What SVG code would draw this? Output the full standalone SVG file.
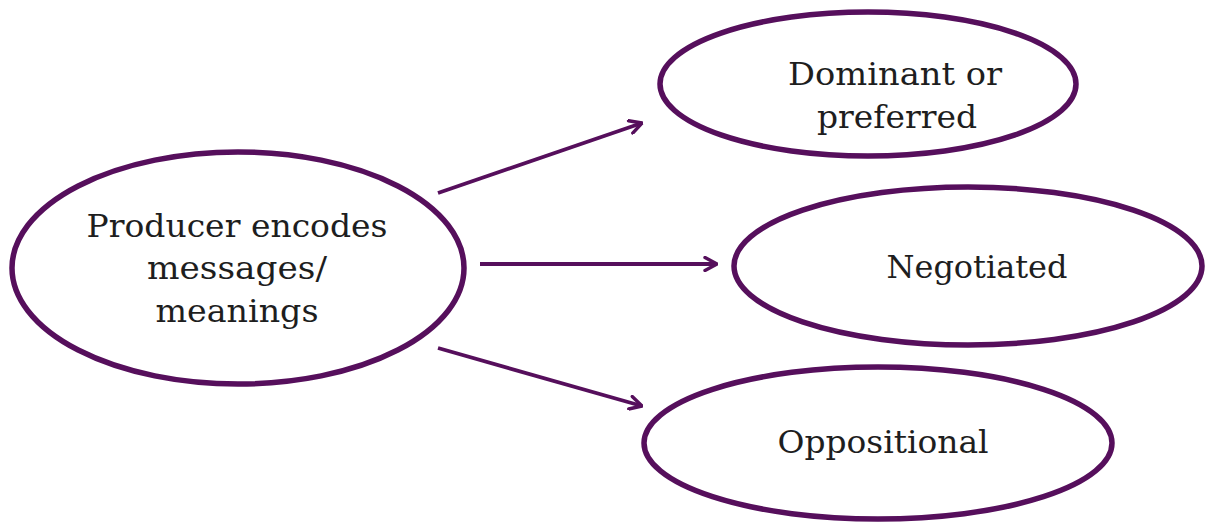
<svg xmlns="http://www.w3.org/2000/svg" width="1210" height="529" viewBox="0 0 1210 529">
<style>
.node ellipse{fill:#ffffff;stroke:#560f5c;stroke-width:5.5}
.node text{font-family:"DejaVu Serif","Liberation Serif",serif;font-size:32px;fill:#1e1e1e;text-anchor:middle}
.conn line{stroke:#560f5c;stroke-width:3.8;fill:none}
</style>
<defs>
<marker id="arr" viewBox="0 0 16 16" refX="15" refY="8" markerWidth="16" markerHeight="16" markerUnits="userSpaceOnUse" orient="auto">
<path d="M3,1.5 L15,8 L3,14.5" fill="none" stroke="#560f5c" stroke-width="3.4" stroke-linecap="round" stroke-linejoin="round"/>
</marker>
</defs>
<rect width="1210" height="529" fill="#ffffff"/>
<g id="producer" class="node">
<ellipse cx="238" cy="268" rx="226" ry="116"/>
<text x="237" y="237" textLength="301" lengthAdjust="spacingAndGlyphs">Producer encodes</text>
<text x="237" y="279" textLength="180" lengthAdjust="spacingAndGlyphs">messages/</text>
<text x="237" y="322" textLength="163" lengthAdjust="spacingAndGlyphs">meanings</text>
</g>
<g id="dominant" class="node">
<ellipse cx="868" cy="84" rx="208" ry="72"/>
<text x="895" y="85" textLength="214" lengthAdjust="spacingAndGlyphs">Dominant or</text>
<text x="897" y="128" textLength="160" lengthAdjust="spacingAndGlyphs">preferred</text>
</g>
<g id="negotiated" class="node">
<ellipse cx="968" cy="266" rx="234" ry="79"/>
<text x="977" y="278" textLength="181" lengthAdjust="spacingAndGlyphs">Negotiated</text>
</g>
<g id="oppositional" class="node">
<ellipse cx="878" cy="443" rx="234" ry="76"/>
<text x="883" y="453" textLength="211" lengthAdjust="spacingAndGlyphs">Oppositional</text>
</g>
<g id="connectors" class="conn">
<line x1="438" y1="193" x2="642" y2="123" marker-end="url(#arr)"/>
<line x1="480" y1="264" x2="717" y2="264" marker-end="url(#arr)"/>
<line x1="438" y1="348" x2="642" y2="406" marker-end="url(#arr)"/>
</g>
</svg>
